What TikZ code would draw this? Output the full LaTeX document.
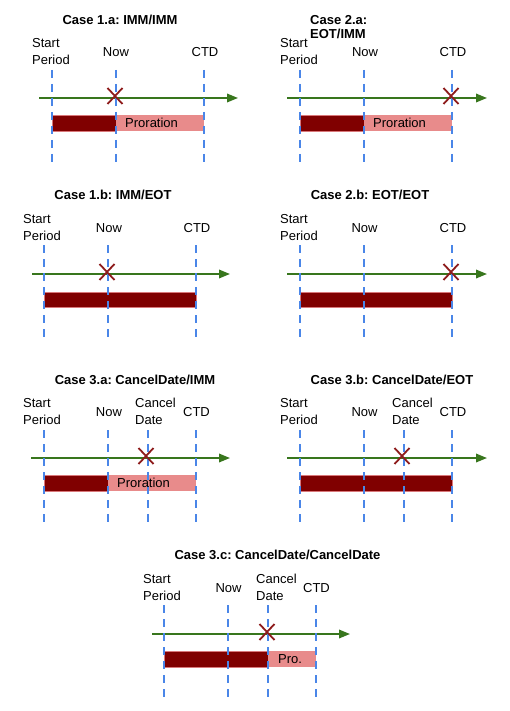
\documentclass[tikz,border=0pt]{standalone}
\usepackage{fontspec}
\setmainfont{Liberation Sans}
\usetikzlibrary{arrows.meta,shapes.misc}
\frenchspacing
\definecolor{tickblue}{HTML}{4A86E8}
\definecolor{linegreen}{HTML}{38761D}
\definecolor{paidred}{HTML}{800000}
\definecolor{prored}{HTML}{E88B8B}
\definecolor{edgered}{HTML}{D9787A}
\definecolor{markred}{HTML}{8E1C1C}
\tikzset{
  lbl/.style={font=\fontsize{13}{16.5}\selectfont, align=left, inner sep=0pt},
  ttl/.style={font=\fontsize{13}{14.5}\selectfont\bfseries, align=left, inner sep=0pt},
  tick/.style={draw=tickblue, line width=2pt, dash pattern=on 7.7pt off 6.3pt},
  timeline/.style={draw=linegreen, line width=1.8pt, -{Triangle[length=11pt,width=8.5pt]}},
  paidbar/.style={fill=paidred, draw=edgered, line width=0.6pt},
  probar/.style={fill=prored},
  xmark/.style={cross out, draw=markred, line width=1.8pt, minimum width=15pt, minimum height=16pt, inner sep=0pt, outer sep=0pt},
  barlbl/.style={font=\fontsize{13}{15}\selectfont, inner sep=0pt, anchor=west},
}
\begin{document}
\begin{tikzpicture}[x=1pt,y=-1pt]
\useasboundingbox[fill=white] (0,0) rectangle (510,711);

% ---------- Case 1.a ----------
\begin{scope}[shift={(0,98)}]
\foreach \n/\x in {s/52,n/116,c/204}{
  \coordinate (1a-\n-t) at (\x,-28);
  \coordinate (1a-\n-b) at (\x,64);
  \coordinate (1a-\n-u) at (\x,17);
  \coordinate (1a-\n-d) at (\x,33);
}
\coordinate (1a-a0) at (39,0);
\coordinate (1a-a1) at (238,0);
\draw[timeline] (1a-a0) -- (1a-a1);
\filldraw[paidbar] (1a-s-u) rectangle (1a-n-d);
\fill[probar] (1a-n-u) rectangle (1a-c-d);
\foreach \n in {s,n,c}{\draw[tick] (1a-\n-t) -- (1a-\n-b);}
\node[xmark] (x1a) at (115,-2) {};
\node[barlbl] (p1a) at (125,25) {Proration};
\node[ttl] (t1a) at (120,-78) {Case 1.a: IMM/IMM};
\node[lbl,anchor=west] (l1a-s) at (32,-46.5) {Start\\Period};
\node[lbl] (l1a-n) at (116,-46) {Now};
\node[lbl] (l1a-c) at (205,-46) {CTD};
\end{scope}

% ---------- Case 2.a ----------
\begin{scope}[shift={(0,98)}]
\foreach \n/\x in {s/300,n/364,c/452}{
  \coordinate (2a-\n-t) at (\x,-28);
  \coordinate (2a-\n-b) at (\x,64);
  \coordinate (2a-\n-u) at (\x,17);
  \coordinate (2a-\n-d) at (\x,33);
}
\coordinate (2a-a0) at (287,0);
\coordinate (2a-a1) at (487,0);
\draw[timeline] (2a-a0) -- (2a-a1);
\filldraw[paidbar] (2a-s-u) rectangle (2a-n-d);
\fill[probar] (2a-n-u) rectangle (2a-c-d);
\foreach \n in {s,n,c}{\draw[tick] (2a-\n-t) -- (2a-\n-b);}
\node[xmark] (x2a) at (451,-2) {};
\node[barlbl] (p2a) at (373,25) {Proration};
\node[ttl,anchor=west] (t2a) at (310,-71) {Case 2.a:\\EOT/IMM};
\node[lbl,anchor=west] (l2a-s) at (280,-46.5) {Start\\Period};
\node[lbl] (l2a-n) at (365,-46) {Now};
\node[lbl] (l2a-c) at (453,-46) {CTD};
\end{scope}

% ---------- Case 1.b ----------
\begin{scope}[shift={(0,274)}]
\foreach \n/\x in {s/44,n/108,c/196}{
  \coordinate (1b-\n-t) at (\x,-29);
  \coordinate (1b-\n-b) at (\x,63);
  \coordinate (1b-\n-u) at (\x,18);
  \coordinate (1b-\n-d) at (\x,33);
}
\coordinate (1b-a0) at (32,0);
\coordinate (1b-a1) at (230,0);
\draw[timeline] (1b-a0) -- (1b-a1);
\filldraw[paidbar] (1b-s-u) rectangle (1b-c-d);
\foreach \n in {s,n,c}{\draw[tick] (1b-\n-t) -- (1b-\n-b);}
\node[xmark] (x1b) at (107,-2) {};
\node[ttl] (t1b) at (113,-79) {Case 1.b: IMM/EOT};
\node[lbl,anchor=west] (l1b-s) at (23,-46.5) {Start\\Period};
\node[lbl] (l1b-n) at (109,-46) {Now};
\node[lbl] (l1b-c) at (197,-46) {CTD};
\end{scope}

% ---------- Case 2.b ----------
\begin{scope}[shift={(0,274)}]
\foreach \n/\x in {s/300,n/364,c/452}{
  \coordinate (2b-\n-t) at (\x,-29);
  \coordinate (2b-\n-b) at (\x,63);
  \coordinate (2b-\n-u) at (\x,18);
  \coordinate (2b-\n-d) at (\x,33);
}
\coordinate (2b-a0) at (287,0);
\coordinate (2b-a1) at (487,0);
\draw[timeline] (2b-a0) -- (2b-a1);
\filldraw[paidbar] (2b-s-u) rectangle (2b-c-d);
\foreach \n in {s,n,c}{\draw[tick] (2b-\n-t) -- (2b-\n-b);}
\node[xmark] (x2b) at (451,-2) {};
\node[ttl] (t2b) at (370,-79) {Case 2.b: EOT/EOT};
\node[lbl,anchor=west] (l2b-s) at (280,-46.5) {Start\\Period};
\node[lbl] (l2b-n) at (364.5,-46) {Now};
\node[lbl] (l2b-c) at (453,-46) {CTD};
\end{scope}

% ---------- Case 3.a ----------
\begin{scope}[shift={(0,458)}]
\foreach \n/\x in {s/44,n/108,k/148,c/196}{
  \coordinate (3a-\n-t) at (\x,-28);
  \coordinate (3a-\n-b) at (\x,64);
  \coordinate (3a-\n-u) at (\x,17);
  \coordinate (3a-\n-d) at (\x,33);
}
\coordinate (3a-a0) at (31,0);
\coordinate (3a-a1) at (230,0);
\draw[timeline] (3a-a0) -- (3a-a1);
\filldraw[paidbar] (3a-s-u) rectangle (3a-n-d);
\fill[probar] (3a-n-u) rectangle (3a-c-d);
\foreach \n in {s,n,k,c}{\draw[tick] (3a-\n-t) -- (3a-\n-b);}
\node[xmark] (x3a) at (146,-2) {};
\node[barlbl] (p3a) at (117,25) {Proration};
\node[ttl] (t3a) at (135,-78) {Case 3.a: CancelDate/IMM};
\node[lbl,anchor=west] (l3a-s) at (23,-46.5) {Start\\Period};
\node[lbl] (l3a-n) at (109,-46) {Now};
\node[lbl,anchor=west] (l3a-k) at (135,-46.5) {Cancel\\Date};
\node[lbl] (l3a-c) at (196.5,-46) {CTD};
\end{scope}

% ---------- Case 3.b ----------
\begin{scope}[shift={(0,458)}]
\foreach \n/\x in {s/300,n/364,k/404,c/452}{
  \coordinate (3b-\n-t) at (\x,-28);
  \coordinate (3b-\n-b) at (\x,64);
  \coordinate (3b-\n-u) at (\x,17);
  \coordinate (3b-\n-d) at (\x,33);
}
\coordinate (3b-a0) at (287,0);
\coordinate (3b-a1) at (487,0);
\draw[timeline] (3b-a0) -- (3b-a1);
\filldraw[paidbar] (3b-s-u) rectangle (3b-c-d);
\foreach \n in {s,n,k,c}{\draw[tick] (3b-\n-t) -- (3b-\n-b);}
\node[xmark] (x3b) at (402,-2) {};
\node[ttl] (t3b) at (392,-78) {Case 3.b: CancelDate/EOT};
\node[lbl,anchor=west] (l3b-s) at (280,-46.5) {Start\\Period};
\node[lbl] (l3b-n) at (364.5,-46) {Now};
\node[lbl,anchor=west] (l3b-k) at (392,-46.5) {Cancel\\Date};
\node[lbl] (l3b-c) at (453,-46) {CTD};
\end{scope}

% ---------- Case 3.c ----------
\begin{scope}[shift={(0,634)}]
\foreach \n/\x in {s/164,n/228,k/268,c/316}{
  \coordinate (3c-\n-t) at (\x,-29);
  \coordinate (3c-\n-b) at (\x,63);
  \coordinate (3c-\n-u) at (\x,17);
  \coordinate (3c-\n-d) at (\x,33);
}
\coordinate (3c-a0) at (152,0);
\coordinate (3c-a1) at (350,0);
\draw[timeline] (3c-a0) -- (3c-a1);
\filldraw[paidbar] (3c-s-u) rectangle (3c-k-d);
\fill[probar] (3c-k-u) rectangle (3c-c-d);
\foreach \n in {s,n,k,c}{\draw[tick] (3c-\n-t) -- (3c-\n-b);}
\node[xmark] (x3c) at (267,-2) {};
\node[barlbl] (p3c) at (278,25) {Pro.};
\node[ttl] (t3c) at (277.5,-79) {Case 3.c: CancelDate/CancelDate};
\node[lbl,anchor=west] (l3c-s) at (143,-46.5) {Start\\Period};
\node[lbl] (l3c-n) at (228.5,-46) {Now};
\node[lbl,anchor=west] (l3c-k) at (256,-46.5) {Cancel\\Date};
\node[lbl] (l3c-c) at (316.5,-46) {CTD};
\end{scope}
\end{tikzpicture}
\end{document}
